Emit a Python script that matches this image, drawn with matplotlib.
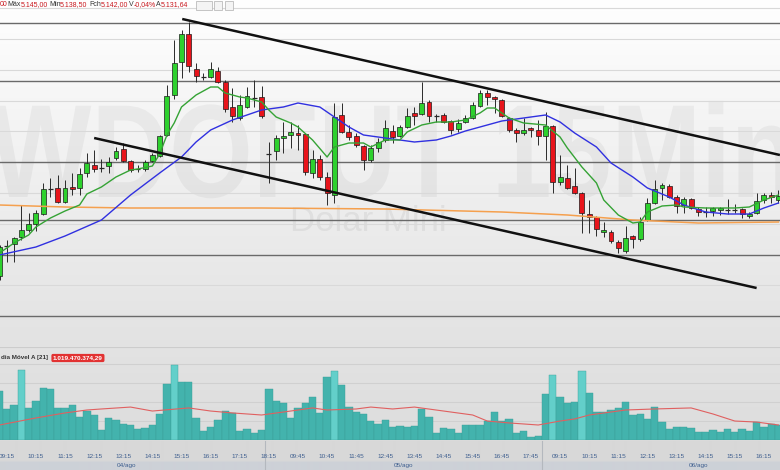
import numpy as np
import matplotlib.pyplot as plt
import matplotlib.colors as mcolors
from matplotlib.patches import Rectangle, PathPatch
from matplotlib.lines import Line2D
from matplotlib.textpath import TextPath
from matplotlib.font_manager import FontProperties
from matplotlib.transforms import Affine2D, blended_transform_factory

# --- WDOFUT 15 min candles (04/ago - 06/ago) ---
opens = [5102, 5117, 5118, 5121.5, 5125, 5128, 5133, 5146, 5146, 5139,
         5146.5, 5146, 5153.5, 5157.5, 5156, 5157, 5161, 5165.5, 5159.5, 5155.5,
         5155.5, 5159.5, 5162, 5172.5, 5192.5, 5209, 5223, 5205.5, 5202, 5201.5,
         5204.5, 5199, 5186.5, 5181, 5186.5, 5191.5, 5191.5, 5163, 5164.5, 5171,
         5172.5, 5173.5, 5173, 5153.5, 5160.5, 5151.5, 5142.5, 5182.5, 5174, 5172,
         5167, 5160, 5166, 5170, 5174.5, 5172, 5176.5, 5183.5, 5183, 5189,
         5182, 5182.5, 5179.5, 5175.5, 5179, 5181, 5187, 5193.5, 5191.5, 5190,
         5181, 5175, 5173.5, 5176, 5175, 5172, 5177, 5149, 5151, 5147,
         5143.5, 5133, 5131.5, 5124, 5124, 5119, 5114.5, 5122, 5120.5, 5130,
         5138.5, 5146, 5147, 5141.5, 5137.5, 5140.5, 5135.5, 5134, 5134.5, 5135,
         5135, 5135, 5135.5, 5132, 5133.5, 5140, 5142.5, 5140]
highs = [5117.5, 5120, 5121.5, 5137.5, 5133.5, 5135, 5148.5, 5151, 5152.5, 5150,
         5153.5, 5156, 5163.5, 5165, 5160.5, 5161.5, 5166.5, 5168.5, 5160, 5157.5,
         5160, 5163.5, 5172.5, 5197.5, 5220, 5225, 5229, 5208.5, 5203.5, 5209,
         5206.5, 5200, 5196, 5192.5, 5196.5, 5200, 5197, 5169, 5172.5, 5179,
         5179, 5177.5, 5173.5, 5165, 5162.5, 5154, 5188.5, 5188.5, 5177.5, 5173.5,
         5167.5, 5167.5, 5171, 5180, 5177.5, 5177.5, 5186, 5186.5, 5199, 5190,
         5183, 5183.5, 5180, 5180.5, 5182.5, 5189, 5195, 5195, 5192, 5190.5,
         5181.5, 5176, 5181, 5176.5, 5180, 5184, 5177.5, 5162.5, 5157.5, 5156,
         5144, 5140, 5132, 5129, 5125, 5120, 5127, 5122.5, 5131.5, 5141,
         5150, 5148.5, 5148, 5142.5, 5141.5, 5141, 5136.5, 5136.5, 5136.5, 5136.5,
         5140.5, 5138, 5136, 5134, 5143.5, 5143.5, 5144, 5145]
lows = [5100, 5109, 5109, 5120, 5124, 5124.5, 5132.5, 5141.5, 5138.5, 5138.5,
        5142.5, 5142.5, 5151.5, 5154, 5154, 5153.5, 5160, 5159, 5154, 5154,
        5154.5, 5159, 5161.5, 5172, 5190.5, 5201, 5204, 5199, 5200, 5201,
        5198.5, 5184, 5179, 5180, 5186, 5186.5, 5181, 5148.5, 5160, 5163.5,
        5166, 5165, 5152.5, 5151, 5150, 5137.5, 5138.5, 5173.5, 5170, 5166.5,
        5155, 5159, 5164, 5169, 5168.5, 5171.5, 5176, 5177.5, 5182.5, 5179,
        5179, 5178.5, 5173, 5174, 5178.5, 5180.5, 5186.5, 5187.5, 5183.5, 5181.5,
        5174, 5169, 5172.5, 5171.5, 5167.5, 5160, 5143.5, 5147.5, 5145.5, 5143,
        5123.5, 5123.5, 5122, 5121.5, 5118.5, 5113.5, 5113.5, 5116, 5119.5, 5129.5,
        5138, 5140, 5141, 5133.5, 5133.5, 5135.5, 5132, 5131.5, 5132, 5132.5,
        5133, 5133.5, 5131, 5131, 5133, 5138.5, 5138.5, 5138.5]
closes = [5116.5, 5117.5, 5121, 5125, 5128, 5133.5, 5145.5, 5145.5, 5139, 5146,
          5145.5, 5153, 5158.5, 5155.5, 5156.5, 5159, 5164.5, 5159.5, 5155, 5156,
          5159, 5162.5, 5172, 5192, 5208.5, 5223, 5207, 5202, 5201.5, 5205.5,
          5199, 5185.5, 5182, 5187.5, 5192, 5191, 5182, 5163.5, 5171, 5172,
          5174, 5172.5, 5154, 5160.5, 5151.5, 5143.5, 5181.5, 5174, 5171.5, 5167.5,
          5160, 5166, 5169, 5176, 5171.5, 5176.5, 5182, 5182, 5188.5, 5182,
          5182.5, 5179, 5175, 5178.5, 5181, 5187.5, 5193.5, 5191.5, 5190.5, 5182,
          5175, 5173.5, 5175, 5175, 5172, 5177, 5149, 5151.5, 5146, 5143.5,
          5133.5, 5131.5, 5125.5, 5125, 5119.5, 5116, 5121, 5120.5, 5129, 5138.5,
          5145.5, 5147.5, 5141.5, 5137, 5140.5, 5136, 5134, 5134.5, 5136, 5136,
          5135.5, 5135.5, 5133, 5133, 5139.5, 5142.5, 5141.5, 5142]

# financial volume (millions)
volume = [3350, 2110, 2380, 4760, 2200, 2670, 3520, 3450, 2180, 2200,
          2380, 1540, 1990, 1680, 680, 1480, 1360, 1070, 1020, 730,
          800, 1020, 1770, 3810, 5080, 3940, 3960, 1520, 630, 900,
          1360, 1970, 1820, 630, 750, 460, 680, 3450, 2670, 2540,
          1480, 2200, 2540, 2940, 1860, 4300, 4710, 3740, 2220, 1920,
          1770, 1290, 1070, 1360, 900, 970, 900, 950, 2110, 1540,
          460, 840, 730, 460, 1040, 1000, 1000, 1270, 1920, 1310,
          1410, 460, 630, 220, 290, 3110, 4420, 2900, 2540, 2580,
          4690, 3220, 1880, 1880, 2040, 2160, 2560, 1700, 1790, 1410,
          2220, 1240, 730, 900, 860, 840, 560, 520, 680, 540,
          750, 560, 770, 630, 1200, 860, 1070, 1020]

# moving averages (candle index, value)
ema_fast_idx = [0, 2, 4, 5, 7, 9, 11, 12, 14, 16, 18, 19, 21, 22, 23, 24, 25, 27, 29, 30,
                31, 33, 34, 36, 37, 38, 40, 41, 43, 45, 46, 48, 50, 51, 53, 55, 56, 58, 60, 62,
                64, 66, 67, 68, 70, 72, 75, 77, 78, 80, 82, 83, 85, 87, 88, 89, 91, 93, 94, 97,
                101, 103, 105, 107]
ema_fast = [5113.5, 5118.5, 5122.5, 5126.5, 5131, 5134.5, 5137.5, 5143, 5146.5, 5151.5,
            5155, 5155.5, 5157, 5163, 5172.5, 5178.5, 5186.5, 5192.5, 5196.5, 5196.5,
            5193.5, 5191.5, 5191, 5189, 5185, 5181.5, 5178.5, 5176.5, 5170, 5161.5,
            5166.5, 5168.5, 5168.5, 5166.5, 5170, 5170, 5174, 5177.5, 5179, 5179,
            5180, 5183.5, 5186, 5186, 5181, 5178.5, 5177.5, 5171.5, 5166, 5156.5,
            5148.5, 5140, 5132.5, 5128.5, 5129, 5134, 5137, 5137.5, 5136.5, 5136,
            5136, 5136.5, 5140, 5142.5]
ema_mid_idx = [0, 5, 9, 14, 18, 22, 25, 27, 29, 32, 34, 36, 39, 41, 44, 46, 48, 50, 53, 55,
               57, 60, 62, 64, 66, 69, 71, 75, 77, 79, 82, 84, 87, 89, 92, 94, 97, 100, 103, 105,
               107]
ema_mid = [5112.5, 5116.5, 5122, 5130, 5142.5, 5153.5, 5161.5, 5169, 5175, 5180,
           5182.5, 5185, 5186.5, 5188.5, 5186.5, 5181.5, 5176.5, 5172.5, 5171, 5170,
           5169, 5170, 5172, 5174.5, 5176.5, 5179.5, 5180.5, 5182.5, 5179, 5173.5,
           5166.5, 5158.5, 5151.5, 5146, 5141.5, 5137.5, 5134, 5133, 5133, 5136,
           5138.5]
ema_slow_idx = [0, 9, 18, 27, 36, 53, 69, 78, 87, 96, 107]
ema_slow = [5137.5, 5136.5, 5136, 5136, 5136, 5135.5, 5134, 5132.5, 5130, 5128.5, 5129]

vol_ma_idx = [0, 5, 9, 12, 14, 18, 21, 26, 29, 32, 36, 40, 43, 45, 49, 51, 54, 57, 61, 65,
              67, 70, 74, 77, 79, 81, 86, 90, 95, 98, 101, 104, 107]
vol_ma = [1020, 1500, 1840, 2040, 2110, 2240, 1970, 2180, 1970, 1840,
          1700, 1970, 2180, 2040, 2110, 2240, 2110, 2240, 1970, 1700,
          1290, 1160, 1020, 1290, 1430, 1700, 2040, 2110, 2180, 1770,
          1290, 1220, 1020]

# drawings
upper_x, upper_y = [25.1, 107.2], [5230.5, 5162.5]
lower_x, lower_y = [13.0, 104.0], [5171, 5096]
levels = [5228.5, 5199.5, 5159, 5130, 5112.5, 5082]
grid_levels = [5236, 5220.5, 5205, 5189.5, 5174.5, 5143.5, 5128, 5097.5]
vol_grid = [1290, 2580, 3870, 5160]

tick_idx = [1, 5, 9, 13, 17, 21, 25, 29, 33, 37, 41, 45, 49, 53, 57, 61, 65, 69, 73,
            77, 81, 85, 89, 93, 97, 101, 105]
tick_lbl = ['09:15', '10:15', '11:15', '12:15', '13:15', '14:15', '15:15', '16:15', '17:15',
            '18:15', '09:45', '10:45', '11:45', '12:45', '13:45', '14:45', '15:45', '16:45',
            '17:45', '09:15', '10:15', '11:15', '12:15', '13:15', '14:15', '15:15', '16:15']
day_idx = [17.5, 55.5, 96.0]
day_lbl = ['04/ago', '05/ago', '06/ago']
day_breaks = [36.5, 74.5]

W, H = 780, 470
STEP, X0 = 7.28, -0.5   # pixels per candle, pixel of candle 0


def fy(py):
    return 1 - py / H


fig = plt.figure(figsize=(W / 100, H / 100), dpi=100)

# background gradient
stops_y = [0, 120, 340, 440, 441, 461, 462, 470]
stops_c = ['#ffffff', '#f4f4f4', '#e3e3e3', '#dddddd', '#d8d8d8', '#d8d8d8', '#cdd1d7', '#cdd1d7']
rgb = np.array([mcolors.to_rgb(c) for c in stops_c])
rows = np.arange(H) + 0.5
img = np.zeros((H, 1, 3))
for k in range(3):
    img[:, 0, k] = np.interp(rows, stops_y, rgb[:, k])
ax_bg = fig.add_axes([0, 0, 1, 1])
ax_bg.imshow(img, aspect='auto', extent=(0, 1, 0, 1), interpolation='bilinear')
ax_bg.axis('off')

xlim = ((0 - X0) / STEP, (W - X0) / STEP)

ax = fig.add_axes([0, fy(347), 1, 347 / H])
ax.set_facecolor('none')
ax.set_xlim(xlim)
ax.set_ylim(5240 - 347 / 2, 5240)
ax.axis('off')

# watermark
wm = TextPath((0, 0), 'WDOFUT 15Min', size=1,
              prop=FontProperties(family='Liberation Sans', weight='bold'))
ext = wm.get_extents()
sx = 800 / ext.width
sy = 95 / 0.716
tr = Affine2D().scale(sx / 100, sy / 100).translate((-10 - ext.x0 * sx) / 100, (H - 197) / 100)
ax.add_patch(PathPatch(wm, transform=tr + fig.dpi_scale_trans, fc='#000000', ec='none',
                       alpha=0.042, zorder=0.5))
ax.text(290 / W, fy(231), 'Dolar Mini', transform=fig.transFigure, fontsize=25,
        family='Liberation Sans', color='#000000', alpha=0.055, va='baseline', zorder=0.6)

for g in grid_levels:
    ax.axhline(g, color='#d9d9d9', lw=0.8, zorder=1)
for lv in levels:
    ax.axhline(lv, color='#6a6a6a', lw=1.0, zorder=1.2)

n = len(opens)
for i in range(n):
    o, h, l, c = opens[i], highs[i], lows[i], closes[i]
    ax.vlines(i, l, h, color='#2a2a2a', lw=0.7, zorder=3)
    if abs(c - o) <= 0.5:
        ax.hlines((o + c) / 2, i - 0.34, i + 0.34, color='#2a2a2a', lw=0.9, zorder=4)
    else:
        col = '#2ed12e' if c > o else '#e8141b'
        ax.add_patch(Rectangle((i - 0.34, min(o, c)), 0.68, abs(c - o), fc=col,
                               ec='#1c1c1c', lw=0.5, zorder=4))

ax.plot(ema_slow_idx, ema_slow, color='#f5a04e', lw=1.1, zorder=5)
ax.plot(ema_mid_idx, ema_mid, color='#3030e0', lw=1.0, zorder=5)
ax.plot(ema_fast_idx, ema_fast, color='#35a335', lw=1.0, zorder=5)
ax.plot(upper_x, upper_y, color='#111111', lw=1.8, zorder=6, solid_capstyle='butt')
ax.plot(lower_x, lower_y, color='#111111', lw=1.8, zorder=6, solid_capstyle='butt')

# volume panel
axv = fig.add_axes([0, fy(440), 1, 93 / H])
axv.set_facecolor('none')
axv.set_xlim(xlim)
axv.set_ylim(0, 93 * 68)
axv.axis('off')
axv.axhline(93 * 68, color='#cccccc', lw=0.8)
for g in vol_grid:
    axv.axhline(g, color='#d0d0d0', lw=0.8, zorder=0.5)
bar_cols = ['#63cfca' if v >= 4400 else '#43b3ad' for v in volume]
axv.bar(range(n), volume, width=1.0, color=bar_cols, edgecolor='#3a9f99', linewidth=0.3, zorder=2)
axv.plot(vol_ma_idx, vol_ma, color='#e06060', lw=0.8, zorder=3)

fig.text(1 / W, fy(358), 'dia Móvel A [21]', ha='left', va='center', fontsize=4.5,
         family='Liberation Sans', weight='bold', color='#333333')
fig.text(53 / W, fy(358), '1.019.470.374,29', ha='left', va='center', fontsize=4.6,
         family='Liberation Sans', weight='bold', color='white',
         bbox=dict(boxstyle='round,pad=0.25', fc='#e23232', ec='none'))

# time axis
trx = blended_transform_factory(axv.transData, fig.transFigure)
for j, t in zip(tick_idx, tick_lbl):
    fig.text(j, fy(457), t, transform=trx, ha='center', va='center', fontsize=4.6,
             family='Liberation Sans', color='#3f5f8f')
for j, t in zip(day_idx, day_lbl):
    fig.text(j, fy(466), t, transform=trx, ha='center', va='center', fontsize=4.6,
             family='Liberation Sans', color='#3f5f8f')
for b in day_breaks:
    fig.add_artist(Line2D([b, b], [fy(441), fy(470)], transform=trx, color='#b4b8be', lw=0.8))

# header
hdr = [(0, '00', '#c8181e'), (7, 'Máx', '#333333'), (21, '5.145,00', '#c8181e'),
       (49, 'Min', '#333333'), (60, '5.138,50', '#c8181e'), (89, 'Fch', '#333333'),
       (101, '5.142,00', '#c8181e'), (129, 'V', '#333333'), (134, '-0,04%', '#c8181e'),
       (156, 'A', '#333333'), (161, '5.131,64', '#c8181e')]
for px, t, c in hdr:
    fig.text(px / W, fy(5), t, ha='left', va='center', fontsize=5.0,
             family='Liberation Sans', color=c)
for bx, bw in [(196, 16), (214, 8), (225, 8)]:
    fig.add_artist(Rectangle((bx / W, fy(10)), bw / W, 9 / H, transform=fig.transFigure,
                             fc='#f4f4f4', ec='#b0b0b0', lw=0.5))

fig.savefig('out.png', dpi=100)
